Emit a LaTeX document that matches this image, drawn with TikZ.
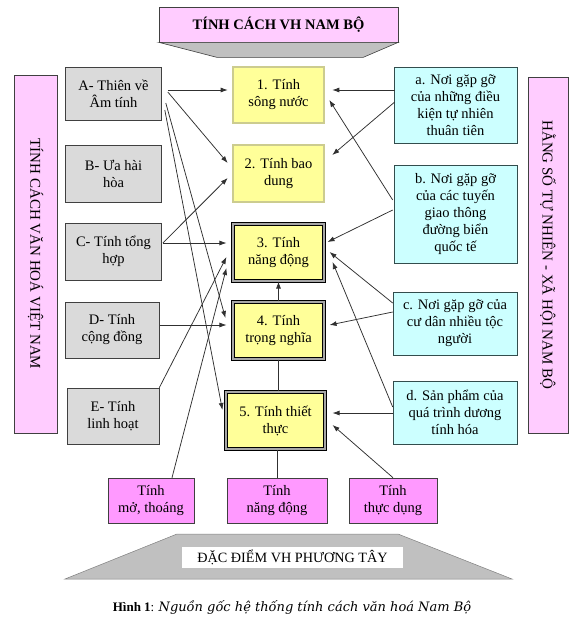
\documentclass[tikz,border=0pt]{standalone}
\usepackage{fontspec}
\setmainfont{Liberation Serif}
\newfontfamily\capfont{DejaVu Serif}
\usetikzlibrary{arrows.meta}
\definecolor{pinkl}{HTML}{FFCCFF}
\definecolor{pinkd}{HTML}{FF99FF}
\definecolor{boxgray}{HTML}{DADADA}
\definecolor{boxyellow}{HTML}{FFFF99}
\definecolor{boxcyan}{HTML}{CCFFFF}
\definecolor{trapgray}{HTML}{C0C0C0}
\definecolor{edge}{HTML}{404040}
\definecolor{linegray}{HTML}{303030}
\begin{document}
\begin{tikzpicture}[x=1pt,y=-1pt,
  txt/.style={align=center,font=\fontsize{14.5}{17}\selectfont,inner sep=0pt},
  box/.style={txt,draw=edge,line width=0.6pt},
  greybox/.style={box,fill=boxgray,minimum width=96pt,minimum height=55pt},
  ybox/.style={box,fill=boxyellow,draw=black,double=boxyellow!60!gray,double distance=1.4pt,line width=0.6pt,minimum width=91pt,minimum height=56pt},
  ybold/.style={ybox,line width=1.1pt,double=gray!70,double distance=1.2pt},
  cbox/.style={box,fill=boxcyan,draw=edge!80!teal,minimum width=123pt},
  pbox/.style={box,fill=pinkd,draw=edge,minimum height=45pt},
  vbox/.style={box,fill=pinkl,draw=edge,rotate=-90,font=\fontsize{15}{17}\selectfont},
  conn/.style={draw=linegray,line width=0.75pt},
  arr/.style={conn,-{Latex[length=7pt,width=5pt]}}]
\useasboundingbox (0,0) rectangle (580,625);
\fill[white] (0,0) rectangle (580,625);

% top banner
\node[box,fill=pinkl,minimum width=239pt,minimum height=35pt,font=\bfseries\fontsize{14.5}{17}\selectfont] (T) at (278.5,24.5) {TÍNH CÁCH VH NAM BỘ};
\draw[draw=edge,line width=0.6pt,fill=trapgray] (T.south west) -- (T.south east) -- ([shift={(-35,15)}]T.south east) -- ([shift={(58,15)}]T.south west) -- cycle;

% vertical side boxes
\node[vbox,minimum width=358pt,minimum height=43pt] (L) at (35.5,254) {TÍNH CÁCH VĂN HOÁ VIỆT NAM};
\node[vbox,minimum width=356pt,minimum height=40pt] (R) at (548,255) {HẰNG SỐ TỰ NHIÊN - XÃ HỘI NAM BỘ};

% left grey boxes
\node[greybox,minimum height=53pt] (A) at (113.5,93.5) {A- Thiên về\\Âm tính};
\node[greybox,minimum height=57pt] (B) at (113.5,173.5) {B- Ưa hài\\hòa};
\node[greybox,minimum height=57pt] (C) at (113.5,251.5) {C- Tính tổng\\hợp};
\node[greybox,minimum width=94pt,minimum height=56pt] (D) at (112,330) {D- Tính\\cộng đồng};
\node[greybox,minimum width=92pt,minimum height=56pt] (E) at (113,416) {E- Tính\\linh hoạt};

% middle yellow boxes
\node[ybox] (Y1) at (278.5,95) {1. Tính\\sông nước};
\node[ybox,minimum height=57pt] (Y2) at (278.5,173.5) {2. Tính bao\\dung};
\node[ybold,minimum height=57pt] (Y3) at (278.5,252.5) {3. Tính\\năng động};
\node[ybold,minimum height=57pt] (Y4) at (278.5,330.5) {4. Tính\\trọng nghĩa};
\node[ybold,minimum width=99pt,minimum height=57pt] (Y5) at (275.5,420.5) {5. Tính thiết\\thực};

% right cyan boxes
\node[cbox,minimum height=76pt] (Ca) at (455.5,105) {a. Nơi gặp gỡ\\của những điều\\kiện tự nhiên\\thuân tiên};
\node[cbox,minimum height=98pt] (Cb) at (455.5,214) {b. Nơi gặp gỡ\\của các tuyến\\giao thông\\đường biển\\quốc tế};
\node[cbox,minimum width=124pt,minimum height=63pt] (Cc) at (455,323.5) {c. Nơi gặp gỡ của\\cư dân nhiều tộc\\người};
\node[cbox,minimum width=124pt,minimum height=63pt] (Cd) at (455,412.5) {d. Sản phẩm của\\quá trình dương\\tính hóa};

% bottom pink boxes
\node[pbox,minimum width=86pt] (P1) at (151,500.5) {Tính\\mở, thoáng};
\node[pbox,minimum width=100pt] (P2) at (277,500.5) {Tính\\năng động};
\node[pbox,minimum width=88pt] (P3) at (393,500.5) {Tính\\thực dụng};

% bottom trapezoid
\draw[draw=gray,line width=0.5pt,fill=trapgray] (177,534) -- (398,534) -- (512,579) -- (65,579) -- cycle;
\node[txt,fill=white,minimum width=221pt,minimum height=21pt,font=\fontsize{14.2}{17}\selectfont] (W) at (292.5,557.5) {ĐẶC ĐIỂM VH PHƯƠNG TÂY};

% caption
\node[txt,font=\fontsize{13}{15}\selectfont] (cap) at (292,607) {\textbf{Hình 1}: {\capfont\itshape Nguồn gốc hệ thống tính cách văn hoá Nam Bộ}};

% left connectors
\draw[arr] ([shift={(6,-3.5)}]A.east) -- ([shift={(-5,-5)}]Y1.west);
\draw[arr] ([shift={(6,-1.5)}]A.east) -- ([shift={(-5,-10.5)}]Y2.west);
\draw[arr] ([shift={(4,9.5)}]A.east) -- ([shift={(-7,-12.5)}]Y4.west);
\draw[arr] ([shift={(3,16.5)}]A.east) -- ([shift={(-3,-10.5)}]Y5.west);
\draw[arr] ([shift={(1,-8.5)}]C.east) -- ([shift={(-5,4.5)}]Y2.west);
\draw[arr] ([shift={(1,-8.5)}]C.east) -- ([shift={(-6,-9.5)}]Y3.west);
\draw[arr] ([shift={(1,-5)}]D.east) -- ([shift={(-6,-5.5)}]Y4.west);
\draw[arr] (E.north east) -- ([shift={(-6,4.5)}]Y3.west);
\draw[arr] ([shift={(21,0)}]P1.north) -- ([shift={(-6,15.5)}]Y3.west);

% middle connectors
\draw[arr] (Y4.north) -- (Y3.south);
\draw[conn] (Y4.south) -- (Y4.south |- Y5.north);
\draw[conn] (P2.north) -- (P2.north |- Y5.south);
\draw[arr] (P3.north) -- ([shift={(7,4.5)}]Y5.east);

% right connectors
\draw[arr] ([shift={(1,-15)}]Ca.west) -- ([shift={(8,-5)}]Y1.east);
\draw[arr] ([shift={(1,-3)}]Ca.west) -- ([shift={(8,-18.5)}]Y2.east);
\draw[arr] ([shift={(-1,-14)}]Cb.west) -- ([shift={(5,5)}]Y1.east);
\draw[arr] ([shift={(-1,-4)}]Cb.west) -- ([shift={(3,-10.5)}]Y3.east);
\draw[arr] ([shift={(0,-20.5)}]Cc.west) -- ([shift={(5,-0.5)}]Y3.east);
\draw[arr] ([shift={(0,-11.5)}]Cc.west) -- ([shift={(5,-5.5)}]Y4.east);
\draw[arr] ([shift={(0,-5.5)}]Cd.west) -- ([shift={(8,9.5)}]Y3.east);
\draw[arr] ([shift={(0,0.5)}]Cd.west) -- ([shift={(7,-7.5)}]Y5.east);
\end{tikzpicture}
\end{document}
